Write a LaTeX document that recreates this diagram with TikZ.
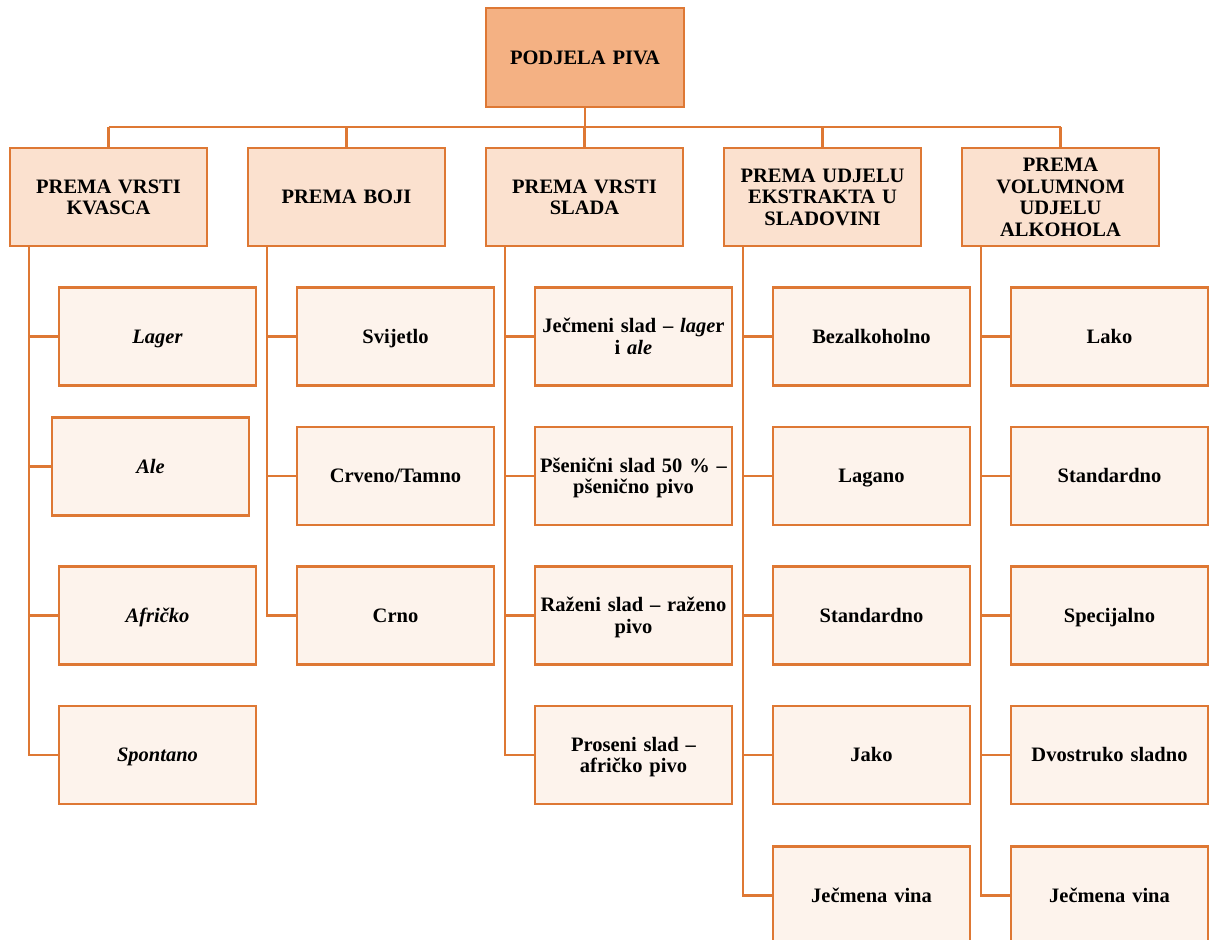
\documentclass[tikz,border=0pt]{standalone}
\usepackage{fontspec}
\setmainfont{Liberation Serif}
\usetikzlibrary{calc}
\definecolor{edgeor}{RGB}{222,120,52}
\definecolor{rootfill}{RGB}{244,177,131}
\definecolor{headfill}{RGB}{251,225,207}
\definecolor{leaffill}{RGB}{253,243,236}
\newcommand{\wstrut}{\rule[-4.4pt]{0pt}{22.7pt}}
\newcommand{\dstrut}{\rule[-4.4pt]{0pt}{4.4pt}}
\begin{document}
\begin{tikzpicture}[x=1pt,y=-1pt,
  box/.style={draw=edgeor, line width=2.6pt, rectangle, minimum width=197pt, minimum height=98pt,
    align=center, text width=190pt, font=\fontsize{20.5}{21.8}\selectfont\bfseries, inner sep=0pt,
    execute at begin node=\wstrut, execute at end node=\dstrut},
  rootbox/.style={box, fill=rootfill, minimum width=198pt, minimum height=99pt},
  headbox/.style={box, fill=headfill},
  leafbox/.style={box, fill=leaffill},
  conn/.style={draw=edgeor, line width=2.4pt}]
\clip (0,0) rectangle (1216,940);
\useasboundingbox (0,0) rectangle (1216,940);

\node[rootbox] (root) at (585,57.5) {PODJELA PIVA};

\node[headbox] (h1) at (108.5,197) {PREMA VRSTI\\KVASCA};
\node[headbox] (h2) at (346.5,197) {PREMA BOJI};
\node[headbox] (h3) at (584.5,197) {PREMA VRSTI\\SLADA};
\node[headbox] (h4) at (822.5,197) {PREMA UDJELU\\EKSTRAKTA U\\SLADOVINI};
\node[headbox] (h5) at (1060.5,197) {PREMA\\VOLUMNOM\\UDJELU\\ALKOHOLA};

% group 1
\node[leafbox] (a1) at (157.5,336.5) {\itshape Lager};
\node[leafbox] (a2) at (150.5,466.5) {\itshape Ale};
\node[leafbox] (a3) at (157.5,615.5) {\itshape Afričko};
\node[leafbox] (a4) at (157.5,755) {\itshape Spontano};
% group 2
\node[leafbox] (b1) at (395.5,336.5) {Svijetlo};
\node[leafbox] (b2) at (395.5,476) {Crveno/Tamno};
\node[leafbox] (b3) at (395.5,615.5) {Crno};
% group 3
\node[leafbox] (c1) at (633.5,336.5) {Ječmeni slad – \textit{lage}r\\i \textit{ale}};
\node[leafbox] (c2) at (633.5,476) {Pšenični slad 50 \% –\\pšenično pivo};
\node[leafbox] (c3) at (633.5,615.5) {Raženi slad – raženo\\pivo};
\node[leafbox] (c4) at (633.5,755) {Proseni slad –\\afričko pivo};
% group 4
\node[leafbox] (d1) at (871.5,336.5) {Bezalkoholno};
\node[leafbox] (d2) at (871.5,476) {Lagano};
\node[leafbox] (d3) at (871.5,615.5) {Standardno};
\node[leafbox] (d4) at (871.5,755) {Jako};
\node[leafbox] (d5) at (871.5,895.5) {Ječmena vina};
% group 5
\node[leafbox] (e1) at (1109.5,336.5) {Lako};
\node[leafbox] (e2) at (1109.5,476) {Standardno};
\node[leafbox] (e3) at (1109.5,615.5) {Specijalno};
\node[leafbox] (e4) at (1109.5,755) {Dvostruko sladno};
\node[leafbox] (e5) at (1109.5,895.5) {Ječmena vina};

% bus
\coordinate (busy) at (0,127);
\draw[conn] (root.south) -- (root.south |- busy);
\draw[conn] (h1.north |- busy) -- (h5.north |- busy);
\foreach \h in {h1,h2,h3,h4,h5}{
  \draw[conn] (\h.north) -- (\h.north |- busy);
}

% trunks
\coordinate (t1) at ($(h1.south west)+(20,0)$);
\coordinate (t2) at ($(h2.south west)+(20,0)$);
\coordinate (t3) at ($(h3.south west)+(20,0)$);
\coordinate (t4) at ($(h4.south west)+(20,0)$);
\coordinate (t5) at ($(h5.south west)+(20,0)$);

\draw[conn] (t1) |- (a4.west);
\foreach \c in {a1,a2,a3}{ \draw[conn] (\c.west) -- (\c.west -| t1); }
\draw[conn] (t2) |- (b3.west);
\foreach \c in {b1,b2}{ \draw[conn] (\c.west) -- (\c.west -| t2); }
\draw[conn] (t3) |- (c4.west);
\foreach \c in {c1,c2,c3}{ \draw[conn] (\c.west) -- (\c.west -| t3); }
\draw[conn] (t4) |- (d5.west);
\foreach \c in {d1,d2,d3,d4}{ \draw[conn] (\c.west) -- (\c.west -| t4); }
\draw[conn] (t5) |- (e5.west);
\foreach \c in {e1,e2,e3,e4}{ \draw[conn] (\c.west) -- (\c.west -| t5); }
\end{tikzpicture}
\end{document}
